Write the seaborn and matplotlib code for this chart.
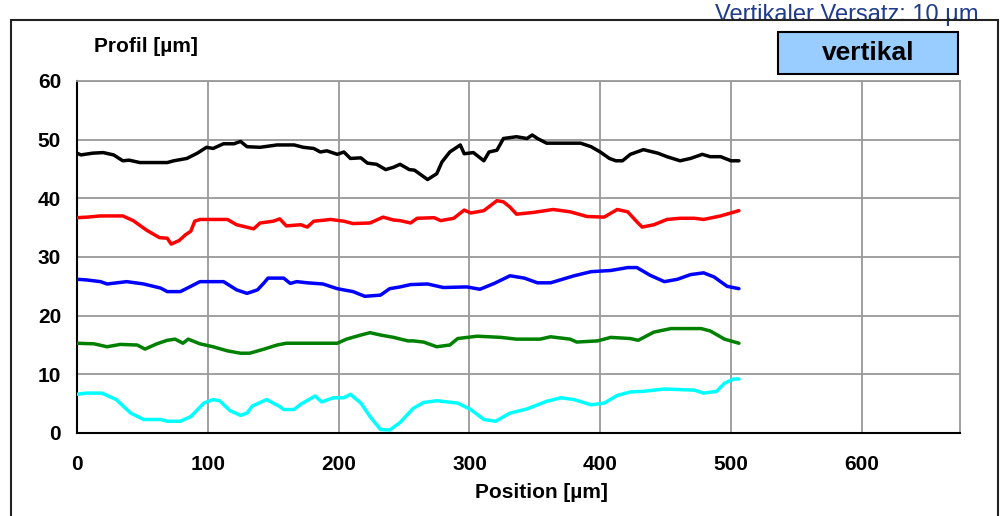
import matplotlib
matplotlib.use("Agg")
import matplotlib.pyplot as plt
from matplotlib.patches import Rectangle
from matplotlib.ticker import MultipleLocator
import pandas as pd
import seaborn as sns

# Surface profiles, each shifted by 10 µm
black_pos = [0, 3, 12, 20, 28, 35, 40, 48, 69, 74, 84, 92, 99, 104, 112, 120, 125, 130, 140, 153,
             166, 173, 181, 186, 191, 199, 204, 209, 217, 222, 229, 236, 242, 247, 254, 258, 268, 275, 279, 285,
             293, 296, 303, 311, 315, 321, 326, 336, 344, 348, 352, 359, 377, 385, 393, 400, 407, 412, 417, 423,
             433, 444, 451, 461, 469, 478, 484, 492, 500, 506]
black_val = [47.7, 47.4, 47.7, 47.8, 47.4, 46.4, 46.5, 46.1, 46.1, 46.4, 46.8, 47.7, 48.7, 48.5, 49.3, 49.3, 49.7, 48.8, 48.7, 49.1,
             49.1, 48.7, 48.5, 47.9, 48.1, 47.5, 47.9, 46.8, 46.9, 46.0, 45.8, 44.9, 45.3, 45.8, 44.9, 44.8, 43.2, 44.2, 46.2, 47.9,
             49.1, 47.6, 47.8, 46.4, 47.9, 48.2, 50.2, 50.5, 50.2, 50.8, 50.2, 49.4, 49.4, 49.4, 48.8, 47.9, 46.8, 46.4, 46.4, 47.5,
             48.3, 47.7, 47.1, 46.4, 46.8, 47.5, 47.1, 47.1, 46.4, 46.4]

red_pos = [0, 8, 18, 35, 43, 53, 63, 69, 72, 78, 83, 87, 90, 94, 115, 122, 135, 140, 150, 155,
           160, 171, 176, 181, 194, 204, 211, 224, 234, 242, 247, 255, 260, 273, 278, 288, 296, 301, 311, 321,
           326, 331, 336, 349, 364, 377, 390, 403, 413, 421, 428, 432, 441, 451, 461, 472, 479, 492, 506]
red_val = [36.7, 36.8, 37.0, 37.0, 36.2, 34.6, 33.3, 33.2, 32.2, 32.8, 33.8, 34.4, 36.1, 36.4, 36.4, 35.5, 34.8, 35.8, 36.1, 36.5,
           35.3, 35.5, 35.1, 36.1, 36.4, 36.1, 35.7, 35.8, 36.8, 36.3, 36.2, 35.8, 36.6, 36.7, 36.2, 36.6, 38.0, 37.5, 37.9, 39.6,
           39.4, 38.5, 37.3, 37.6, 38.1, 37.7, 36.9, 36.8, 38.1, 37.7, 36.0, 35.1, 35.5, 36.4, 36.6, 36.6, 36.4, 37.0, 37.9]

blue_pos = [0, 7, 18, 23, 38, 51, 64, 69, 79, 87, 94, 112, 122, 130, 138, 143, 146, 158, 163, 168,
            176, 188, 199, 211, 220, 232, 239, 247, 255, 268, 280, 298, 308, 319, 331, 342, 352, 362, 380, 393,
            408, 421, 428, 438, 449, 459, 469, 479, 487, 497, 506]
blue_val = [26.2, 26.1, 25.8, 25.4, 25.8, 25.4, 24.7, 24.1, 24.1, 25.0, 25.8, 25.8, 24.4, 23.8, 24.4, 25.6, 26.4, 26.4, 25.5, 25.8,
            25.6, 25.4, 24.6, 24.1, 23.3, 23.5, 24.6, 24.9, 25.3, 25.4, 24.8, 24.9, 24.5, 25.5, 26.8, 26.4, 25.6, 25.6, 26.8, 27.5,
            27.7, 28.2, 28.2, 26.9, 25.8, 26.2, 27.0, 27.3, 26.6, 25.0, 24.6]

green_pos = [0, 13, 23, 33, 46, 52, 61, 69, 75, 81, 85, 94, 104, 115, 125, 132, 143, 153, 160, 199,
             206, 217, 224, 232, 242, 253, 257, 265, 275, 285, 291, 306, 324, 336, 354, 362, 377, 382, 398, 408,
             423, 429, 441, 454, 477, 484, 495, 506]
green_val = [15.3, 15.2, 14.7, 15.1, 15.0, 14.3, 15.2, 15.8, 16.0, 15.3, 16.0, 15.2, 14.7, 14.0, 13.6, 13.6, 14.3, 15.0, 15.3, 15.3,
             16.0, 16.7, 17.1, 16.7, 16.3, 15.7, 15.7, 15.5, 14.7, 15.0, 16.1, 16.5, 16.3, 16.0, 16.0, 16.4, 16.0, 15.5, 15.7, 16.3,
             16.1, 15.8, 17.2, 17.8, 17.8, 17.4, 16.0, 15.3]

cyan_pos = [0, 7, 19, 30, 41, 51, 64, 69, 79, 87, 97, 104, 109, 117, 125, 130, 134, 145, 155, 158,
            166, 171, 182, 187, 196, 204, 209, 217, 224, 232, 239, 247, 257, 265, 275, 291, 301, 311, 320, 331,
            344, 359, 370, 380, 393, 403, 413, 423, 433, 449, 472, 479, 489, 495, 502, 506]
cyan_val = [6.6, 6.8, 6.8, 5.7, 3.4, 2.3, 2.3, 2.0, 2.0, 2.8, 5.1, 5.7, 5.5, 3.8, 3.0, 3.4, 4.6, 5.7, 4.5, 4.0,
            4.0, 4.9, 6.3, 5.3, 6.0, 6.0, 6.6, 5.1, 2.8, 0.6, 0.5, 1.8, 4.2, 5.2, 5.5, 5.1, 4.0, 2.3, 2.0, 3.4,
            4.1, 5.4, 6.0, 5.7, 4.8, 5.1, 6.4, 7.0, 7.1, 7.5, 7.3, 6.8, 7.1, 8.5, 9.2, 9.2]

series_names = ["Profil 5", "Profil 4", "Profil 3", "Profil 2", "Profil 1"]
series_colors = ["#000000", "#ff0000", "#0000ff", "#008000", "#00ffff"]
x_ticks = [0, 100, 200, 300, 400, 500, 600]
y_ticks = [0, 10, 20, 30, 40, 50, 60]

frames = []
for name, pos, val in zip(series_names,
                          [black_pos, red_pos, blue_pos, green_pos, cyan_pos],
                          [black_val, red_val, blue_val, green_val, cyan_val]):
    frames.append(pd.DataFrame({"Position": pos, "Profil": val, "Serie": name}))
df = pd.concat(frames, ignore_index=True)

sns.set_style("white")
plt.rcParams["font.family"] = ["Liberation Sans", "DejaVu Sans"]
plt.rcParams["text.color"] = "black"
plt.rcParams["xtick.color"] = "black"
plt.rcParams["ytick.color"] = "black"
plt.rcParams["xtick.labelcolor"] = "black"
plt.rcParams["ytick.labelcolor"] = "black"

W, H = 1003, 516
fig = plt.figure(figsize=(W / 100, H / 100), dpi=100)
ax = fig.add_axes([77 / W, 1 - 433 / H, (960 - 77) / W, (433 - 81) / H])

sns.lineplot(data=df, x="Position", y="Profil", hue="Serie", hue_order=series_names,
             palette=dict(zip(series_names, series_colors)), estimator=None, sort=False,
             linewidth=2.5, legend=False, ax=ax, zorder=3)

ax.set_xlim(0, 675)
ax.set_ylim(0, 60)
ax.set_xticks(x_ticks)
ax.set_yticks(y_ticks)
ax.xaxis.set_minor_locator(MultipleLocator(20))
ax.yaxis.set_minor_locator(MultipleLocator(2))
ax.grid(True, which="major", color="#999999", linewidth=1.3)
ax.set_axisbelow(True)
ax.set_xlabel("")
ax.set_ylabel("")

for side in ("left", "bottom"):
    ax.spines[side].set_color("black")
    ax.spines[side].set_linewidth(1.5)
for side in ("top", "right"):
    ax.spines[side].set_color("#999999")
    ax.spines[side].set_linewidth(1.3)

ax.tick_params(which="major", direction="out", length=5.5, width=1.1, color="black",
               labelsize=15, labelcolor="black", pad=6)
ax.tick_params(axis="x", which="major", pad=10)
ax.tick_params(which="minor", direction="in", length=3.5, width=1.1, color="black")
for lbl in ax.get_xticklabels() + ax.get_yticklabels():
    lbl.set_fontweight("bold")

fig.text(146 / W, 1 - 47 / H, "Profil [µm]", ha="center", va="center",
         fontsize=15, fontweight="bold", color="black")
fig.text(541 / W, 1 - 493 / H, "Position [µm]", ha="center", va="center",
         fontsize=15, fontweight="bold", color="black")

# header line, partly cut by the top edge
fig.text(847 / W, 1 - 21 / H, "Vertikaler Versatz: 10 µm", ha="center", va="baseline",
         fontsize=17, color="#1f3b8c", zorder=1)

# outer chart frame
fig.add_artist(Rectangle((11 / W, -0.05), (998 - 11) / W, 1 - 20 / H + 0.05,
                         transform=fig.transFigure, facecolor="none", edgecolor="#222222",
                         linewidth=1.5, zorder=5))

# legend box
fig.add_artist(Rectangle((778 / W, 1 - 74 / H), 180 / W, 42 / H, transform=fig.transFigure,
                         facecolor="#99ccff", edgecolor="black", linewidth=1.5, zorder=5))
fig.text(868 / W, 1 - 53 / H, "vertikal", ha="center", va="center",
         fontsize=19, fontweight="bold", color="black", zorder=6)

fig.savefig("out.png", dpi=100)
